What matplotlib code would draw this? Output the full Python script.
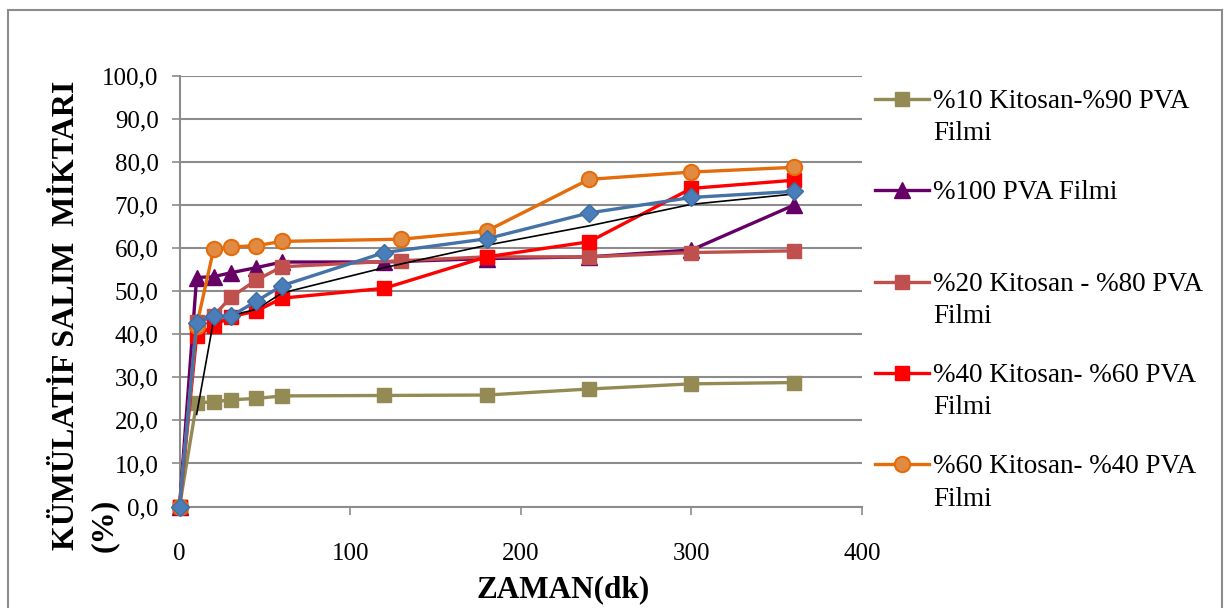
import numpy as np
import matplotlib
matplotlib.use("Agg")
import matplotlib.pyplot as plt
from matplotlib.patches import Rectangle

plt.rcParams['font.family'] = ['Liberation Serif', 'DejaVu Serif']

# time points (dk)
t = [0, 10, 20, 30, 45, 60, 120, 180, 240, 300, 360]
t_b = [0, 10, 20, 30, 45, 60, 130, 180, 240, 300, 360]
t_trend = [10, 20, 30, 45, 60, 120, 180, 240, 300, 360]

# cumulative release (%)
k10_pva90 = [0, 24.1, 24.3, 24.8, 25.1, 25.7, 25.8, 25.9, 27.3, 28.5, 28.8]
pva100 = [0, 53.2, 53.4, 54.3, 55.5, 56.8, 56.8, 57.6, 58.0, 59.6, 70.0]
k20_pva80 = [0, 42.8, 44.3, 48.6, 52.6, 55.7, 57.1, 58.0, 58.0, 59.0, 59.4]
k40_pva60 = [0, 39.6, 42.0, 44.1, 45.4, 48.4, 50.7, 58.0, 61.5, 73.9, 75.8]
k60_pva40 = [0, 42.0, 59.8, 60.3, 60.6, 61.6, 62.1, 64.0, 76.0, 77.7, 78.8]
extra_blue = [0, 42.7, 44.3, 44.2, 47.7, 51.3, 59.0, 62.2, 68.2, 71.8, 73.2]
trend = [21.4, 43.4, 44.4, 45.8, 49.6, 55.5, 60.7, 65.2, 70.2, 72.6]

labels = ['%10 Kitosan-%90 PVA\nFilmi',
          '%100 PVA Filmi\n',
          '%20 Kitosan - %80 PVA\nFilmi',
          '%40 Kitosan- %60 PVA\nFilmi',
          '%60 Kitosan- %40 PVA\nFilmi']

fig = plt.figure(figsize=(12.29, 6.08), dpi=100)
ax = fig.add_axes([0.1461, 0.1669, 0.5553, 0.708])

lw = 2.4
kw = dict(lw=lw, clip_on=False, zorder=3)
h1, = ax.plot(t, k10_pva90, color='#948A54', marker='s', ms=10.5,
              mfc='#948A54', mec='#948A54', **kw)
h2, = ax.plot(t, pva100, color='#660066', marker='^', ms=12,
              mfc='#660066', mec='#660066', **kw)
h3, = ax.plot(t_b, k20_pva80, color='#C0504D', marker='s', ms=10.5,
              mfc='#C0504D', mec='#C0504D', **kw)
h4, = ax.plot(t, k40_pva60, color='#FF0000', marker='s', ms=10.5,
              mfc='#FF0000', mec='#FF0000', **kw)
h5, = ax.plot(t_b, k60_pva40, color='#E46C0A', marker='o', ms=11,
              mfc='#E08A42', mec='#E46C0A', mew=1.5, **kw)
ax.plot(t_trend, trend, color='black', lw=1.2, zorder=3)
ax.plot(t, extra_blue, color='#4572A7', marker='D', ms=9,
        mfc='#4A7EBB', mec='#3F6E9F', **kw)

ax.set_xlim(0, 400)
ax.set_ylim(0, 100)
ax.set_xticks([0, 100, 200, 300, 400])
ax.set_yticks(np.arange(0, 101, 10))
ax.set_yticklabels([('%.1f' % v).replace('.', ',') for v in np.arange(0, 101, 10)])
ax.tick_params(axis='both', labelsize=18, color='#8c8c8c', width=1.2, length=6)
ax.tick_params(axis='y', pad=9)
ax.tick_params(axis='x', pad=20)
ax.yaxis.grid(True, color='#8c8c8c', lw=1.5)
ax.set_axisbelow(True)
for s in ['top', 'right']:
    ax.spines[s].set_visible(False)
for s in ['left', 'bottom']:
    ax.spines[s].set_color('#8c8c8c')
    ax.spines[s].set_linewidth(1.5)

# y label, two lines as in the source chart
fig.text(67 / 1229, 1 - 550 / 608, 'KÜMÜLATİF SALIM  MİKTARI', rotation=90,
         ha='center', va='bottom', fontsize=23, fontweight='bold')
fig.text(104 / 1229, 1 - 552 / 608, '(%)', rotation=90,
         ha='center', va='bottom', fontsize=23, fontweight='bold')
fig.text(563 / 1229, 1 - 590 / 608, 'ZAMAN(dk)', ha='center', va='center',
         fontsize=22.5, fontweight='bold')

leg = fig.legend([h1, h2, h3, h4, h5], labels, loc='upper left',
                 bbox_to_anchor=(875 / 1229, 1 - 89 / 608), frameon=False,
                 fontsize=19.5, handlelength=2.0, handletextpad=0.15,
                 labelspacing=1.26, borderpad=0, borderaxespad=0)
for txt in leg.get_texts():
    txt.set_linespacing(1.38)
# put the handle on the first text line
for hd in leg.legend_handles:
    hd.set_ydata(np.asarray(hd.get_ydata()) + 13.5)

fig.patches.append(Rectangle((8 / 1229, -0.1), (1222 - 8) / 1229, 1.1 - 10 / 608,
                             transform=fig.transFigure, fill=False,
                             edgecolor='#8c8c8c', lw=1.5))

fig.savefig('out.png', dpi=100)
